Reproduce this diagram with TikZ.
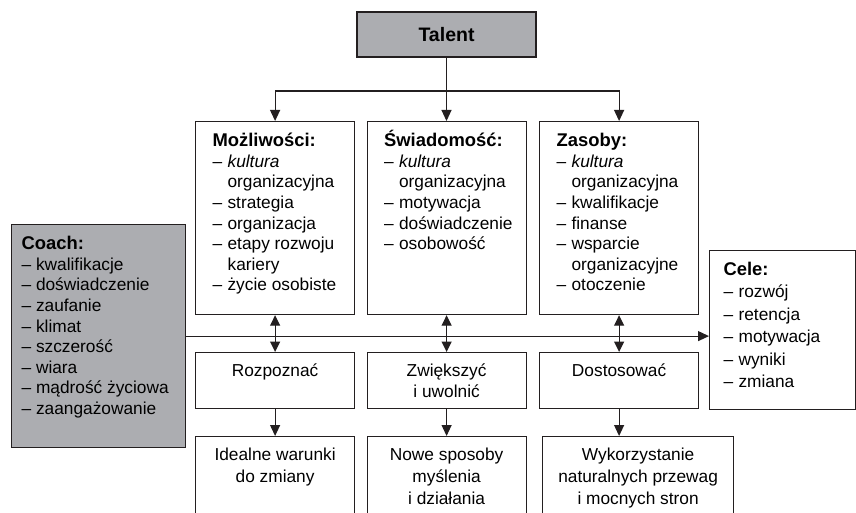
\documentclass[tikz,border=0pt]{standalone}
\usepackage{fontspec}
\setmainfont{Liberation Sans}
\usetikzlibrary{arrows.meta}
\definecolor{szary}{RGB}{172,173,177}
\definecolor{linia}{RGB}{35,31,32}
\newcommand\pkt{\makebox[15pt][l]{–}}
\newcommand\wc{\hspace*{15pt}}
\newcommand\nagl[1]{\strut\smash{\fontsize{18.4}{20}\selectfont\bfseries #1}}
\begin{document}
\begin{tikzpicture}[x=1pt,y=-1pt,
  every node/.style={font=\fontsize{17.3}{20.6}\selectfont},
  lin/.style={draw=linia,line width=1.1pt},
  strz/.style={lin,-{Triangle[length=11pt,width=10pt]}},
  dwie/.style={lin,{Triangle[length=10.5pt,width=10pt]}-{Triangle[length=10.5pt,width=10pt]}},
  ramka/.style={draw=linia,line width=1.2pt,anchor=north west,inner xsep=17pt,inner ysep=10.6pt},
  szara/.style={ramka,fill=szary},
  srodek/.style={ramka,inner xsep=4pt,inner ysep=8.6pt,font=\fontsize{17.3}{21.5}\selectfont},
  dol/.style={ramka,inner xsep=4pt,inner ysep=8.6pt,font=\fontsize{17.3}{22}\selectfont}]
\useasboundingbox (0,0) rectangle (856,513);
\node[szara,anchor=center,inner sep=0pt,minimum width=179pt,minimum height=45pt,
  font=\fontsize{19.5}{22}\selectfont\bfseries] (talent) at (446.5,34.5) {Talent};
\node[ramka] (mozl) at (195,121) {\parbox[t][171.8pt][t]{125pt}{\nagl{Możliwości:}\\
  \pkt\textit{kultura}\\ \wc organizacyjna\\ \pkt strategia\\ \pkt organizacja\\
  \pkt etapy rozwoju\\ \wc kariery\\ \pkt życie osobiste}};
\node[ramka] (swiad) at (366.5,121) {\parbox[t][171.8pt][t]{125pt}{\nagl{Świadomość:}\\
  \pkt\textit{kultura}\\ \wc organizacyjna\\ \pkt motywacja\\ \pkt doświadczenie\\
  \pkt osobowość}};
\node[ramka] (zas) at (539,121) {\parbox[t][171.8pt][t]{125pt}{\nagl{Zasoby:}\\
  \pkt\textit{kultura}\\ \wc organizacyjna\\ \pkt kwalifikacje\\ \pkt finanse\\
  \pkt wsparcie\\ \wc organizacyjne\\ \pkt otoczenie}};
\node[srodek] (rozp) at (195,352) {\parbox[t][38.8pt][t]{151pt}{\centering\strut Rozpoznać}};
\node[srodek] (zwieksz) at (366.5,352) {\parbox[t][38.8pt][t]{151pt}{\centering\strut Zwiększyć\\ i uwolnić}};
\node[srodek] (dost) at (539,352) {\parbox[t][38.8pt][t]{151pt}{\centering\strut Dostosować}};
\node[dol] (ideal) at (195,436) {\parbox[t][62.8pt][t]{151pt}{\centering\strut Idealne warunki\\ do zmiany}};
\node[dol] (nowe) at (366.5,436) {\parbox[t][62.8pt][t]{151pt}{\centering\strut Nowe sposoby\\ myślenia\\ i działania}};
\node[dol] (wyk) at (542,436) {\parbox[t][62.8pt][t]{183pt}{\centering\strut Wykorzystanie\\ naturalnych przewag\\ i mocnych stron}};
\node[szara,inner xsep=10pt,inner ysep=10.6pt] (coach) at (11,224)
  {\parbox[t][201.8pt][t]{154pt}{\nagl{Coach:}\\ – kwalifikacje\\ – doświadczenie\\ – zaufanie\\
  – klimat\\ – szczerość\\ – wiara\\ – mądrość życiowa\\ – zaangażowanie}};
\node[ramka,inner xsep=14pt,inner ysep=9.3pt,font=\fontsize{17.3}{22.4}\selectfont] (cele) at (709,250)
  {\parbox[t][140.4pt][t]{118pt}{\nagl{Cele:}\\ \pkt rozwój\\ \pkt retencja\\ \pkt motywacja\\
  \pkt wyniki\\ \pkt zmiana}};
\coordinate (rozg) at (446.5,91);
\draw[lin] (talent.south) -- (rozg);
\draw[strz] (rozg) -| (mozl.north);
\draw[strz] (rozg) -- (rozg |- swiad.north);
\draw[strz] (rozg) -| (zas.north);
\draw[strz] (coach.east) -- (coach.east -| cele.west);
\draw[dwie] (mozl.south) -- (rozp.north);
\draw[dwie] (swiad.south) -- (zwieksz.north);
\draw[dwie] (zas.south) -- (dost.north);
\draw[strz] (rozp.south) -- (ideal.north);
\draw[strz] (zwieksz.south) -- (nowe.north);
\draw[strz] (dost.south) -- (dost.south |- wyk.north);
\end{tikzpicture}
\end{document}
